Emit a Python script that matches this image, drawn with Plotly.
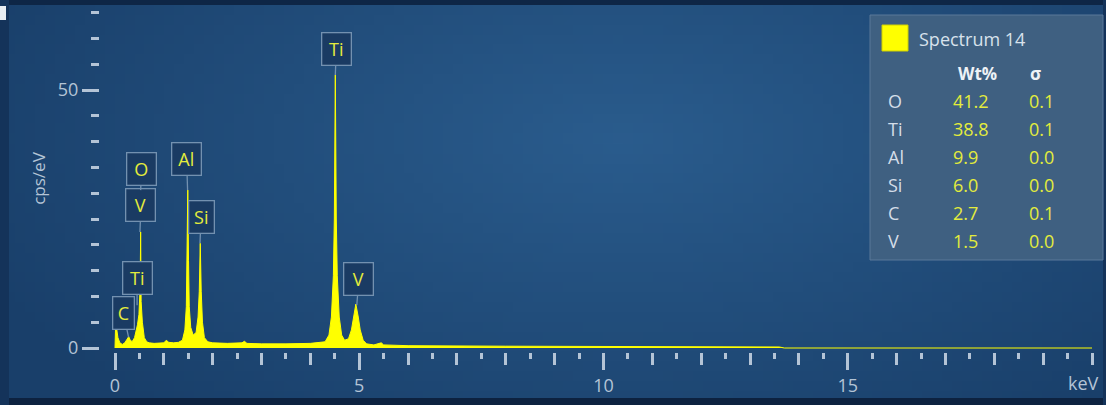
import base64
import struct
import zlib

import plotly.graph_objects as go

# ---------------- data ----------------
energy_kev = [0.00, 0.01, 0.03, 0.06, 0.10, 0.15, 0.20, 0.25, 0.28, 0.31, 0.35, 0.40, 0.43,
              0.46, 0.49, 0.505, 0.515, 0.525, 0.535, 0.56, 0.60, 0.65, 0.70, 0.80, 0.90, 1.00,
              1.05, 1.10, 1.20, 1.30, 1.38, 1.43, 1.46, 1.475, 1.49, 1.505, 1.52, 1.55, 1.60,
              1.66, 1.70, 1.725, 1.745, 1.765, 1.79, 1.83, 1.90, 2.00, 2.30, 2.60, 2.65, 2.70,
              3.00, 3.50, 4.00, 4.30, 4.38, 4.43, 4.47, 4.49, 4.51, 4.53, 4.55, 4.59, 4.64,
              4.70, 4.78, 4.84, 4.88, 4.93, 4.98, 5.02, 5.08, 5.15, 5.30, 5.45, 5.50, 6.00,
              8.00, 10.00, 12.00, 13.60, 13.70, 20.00]
cps_per_ev = [0.0, 3.6, 4.0, 2.0, 1.0, 0.7, 1.0, 1.8, 2.2, 1.6, 1.2, 2.0, 3.0,
              4.5, 6.5, 9.0, 12.0, 22.5, 9.0, 5.0, 2.0, 1.2, 1.0, 0.9, 0.9, 1.0,
              1.5, 1.1, 1.0, 1.1, 1.5, 3.5, 8.0, 17.0, 30.6, 17.0, 8.0, 4.0, 2.5,
              3.0, 6.0, 11.0, 20.3, 11.0, 5.0, 2.0, 1.2, 1.0, 0.9, 1.0, 1.3, 0.9,
              0.8, 0.8, 0.9, 1.2, 2.5, 6.0, 14.0, 25.0, 52.9, 25.0, 14.0, 6.0, 2.5,
              1.5, 1.8, 3.5, 6.0, 8.5, 6.0, 3.5, 1.5, 0.8, 0.6, 1.0, 0.6, 0.45,
              0.35, 0.3, 0.25, 0.2, 0.0, 0.0]

peak_labels = ["C", "Ti", "V", "O", "Al", "Si", "Ti", "V"]
peak_energy = [0.277, 0.452, 0.511, 0.525, 1.486, 1.740, 4.510, 4.950]
peak_height = [2.1, 8.3, 22.5, 30.6, 30.6, 20.3, 52.9, 8.3]

spectrum_name = "Spectrum 14"
table_header = ["Wt%", "σ"]
elements = ["O", "Ti", "Al", "Si", "C", "V"]
wt_pct = ["41.2", "38.8", "9.9", "6.0", "2.7", "1.5"]
sigma = ["0.1", "0.1", "0.0", "0.0", "0.1", "0.0"]

x_tick_vals = [0, 5, 10, 15]
y_tick_vals = [0, 50]

# ---------------- layout geometry ----------------
W, H = 1106, 405
L, R, T, B = 100, 8, 5, 53
PW, PH = W - L - R, H - T - B


def px(x):
    return (x - L) / PW


def py(y):
    return (H - B - y) / PH


BG = "#224d7c"
TICK = "#b4c4d6"
LABEL_YEL = "#e4ec3c"
FONT = "Open Sans"


# ---------------- background vignette (decoration image) ----------------
def vignette_png(w, h, inner, outer, cx, cy, rx, ry):
    rows = []
    for j in range(h):
        row = bytearray([0])
        for i in range(w):
            dx = ((i + 0.5) / w * W - cx) / rx
            dy = ((j + 0.5) / h * H - cy) / ry
            t = min(1.0, (dx * dx + dy * dy) ** 0.5)
            for c in range(3):
                row.append(int(round(inner[c] * (1 - t) + outer[c] * t)))
        rows.append(bytes(row))
    raw = b"".join(rows)

    def chunk(tag, data):
        return struct.pack(">I", len(data)) + tag + data + struct.pack(">I", zlib.crc32(tag + data) & 0xFFFFFFFF)

    png = b"\x89PNG\r\n\x1a\n" + chunk(b"IHDR", struct.pack(">IIBBBBB", w, h, 8, 2, 0, 0, 0))
    png += chunk(b"IDAT", zlib.compress(raw, 9)) + chunk(b"IEND", b"")
    return "data:image/png;base64," + base64.b64encode(png).decode()


bg_src = vignette_png(111, 41, (42, 92, 141), (25, 63, 106), 620, 140, 700, 360)

fig = go.Figure()
fig.add_trace(go.Scatter(
    x=energy_kev, y=cps_per_ev, mode="lines",
    line=dict(color="#ffff00", width=1),
    fill="tozeroy", fillcolor="#ffff00",
    hoverinfo="skip", showlegend=False,
))

# label offsets (pixels) for callouts
label_ax = [-5, 0, 1, 1, -1, 1, 1, 2]
label_ay = [-24, -27, -27, -21, -31, -26, -26, -26]
label_w = [12, 20, 20, 20, 20, 16, 20, 20]

annotations = []
for name, xe, yh, ax, ay, w in zip(peak_labels, peak_energy, peak_height, label_ax, label_ay, label_w):
    annotations.append(dict(
        x=xe, y=yh, xref="x", yref="y", text=name, showarrow=True,
        ax=ax, ay=ay, arrowhead=0, arrowwidth=1.3, arrowcolor="#7391b0",
        bgcolor="#1a3b63", bordercolor="#7391b0", borderwidth=1.3, borderpad=4,
        width=w, height=23, font=dict(family=FONT, size=18, color=LABEL_YEL),
    ))

# keV unit label at axis end
annotations.append(dict(x=20, y=0, xref="x", yref="paper", text="keV", showarrow=False,
                        xanchor="center", yanchor="middle", xshift=-9, yshift=-(383 - (H - B)),
                        font=dict(family=FONT, size=18, color=TICK)))

# legend panel texts
annotations.append(dict(x=px(917), y=py(39), xref="paper", yref="paper", text=spectrum_name,
                        showarrow=False, xanchor="left", yanchor="middle",
                        font=dict(family=FONT, size=18, color="#d8e2ec")))
annotations.append(dict(x=px(977), y=py(73), xref="paper", yref="paper", text="<b>%s</b>" % table_header[0],
                        showarrow=False, xanchor="center", yanchor="middle",
                        font=dict(family=FONT, size=17, color="#eef2f6")))
annotations.append(dict(x=px(1035), y=py(73), xref="paper", yref="paper", text="<b>%s</b>" % table_header[1],
                        showarrow=False, xanchor="center", yanchor="middle",
                        font=dict(family=FONT, size=17, color="#eef2f6")))
row0, dy = 101, 28
for i, (el, wt, sg) in enumerate(zip(elements, wt_pct, sigma)):
    yy = py(row0 + i * dy)
    annotations.append(dict(x=px(886), y=yy, xref="paper", yref="paper", text=el, showarrow=False,
                            xanchor="left", yanchor="middle",
                            font=dict(family=FONT, size=18, color="#d4dde8")))
    annotations.append(dict(x=px(951), y=yy, xref="paper", yref="paper", text=wt, showarrow=False,
                            xanchor="left", yanchor="middle",
                            font=dict(family=FONT, size=18, color=LABEL_YEL)))
    annotations.append(dict(x=px(1027), y=yy, xref="paper", yref="paper", text=sg, showarrow=False,
                            xanchor="left", yanchor="middle",
                            font=dict(family=FONT, size=18, color=LABEL_YEL)))

shapes = [
    # outer frame bands
    dict(type="rect", xref="paper", yref="paper", x0=px(0), x1=px(W), y0=py(0), y1=py(5),
         fillcolor="#0e2646", line=dict(width=0), layer="above"),
    dict(type="rect", xref="paper", yref="paper", x0=px(0), x1=px(W), y0=py(398), y1=py(H),
         fillcolor="#0d2240", line=dict(width=0), layer="above"),
    dict(type="rect", xref="paper", yref="paper", x0=px(0), x1=px(9), y0=py(0), y1=py(H),
         fillcolor="#14335a", line=dict(width=0), layer="above"),
    dict(type="rect", xref="paper", yref="paper", x0=px(0), x1=px(6), y0=py(6), y1=py(20),
         fillcolor="#e8edf2", line=dict(width=0), layer="above"),
    dict(type="rect", xref="paper", yref="paper", x0=px(1103), x1=px(W), y0=py(0), y1=py(H),
         fillcolor="#14335a", line=dict(width=0), layer="above"),
    # legend panel
    dict(type="rect", xref="paper", yref="paper", x0=px(870), x1=px(1103), y0=py(15), y1=py(260),
         fillcolor="#3f6081", line=dict(color="#5a7899", width=1), layer="above"),
    dict(type="rect", xref="paper", yref="paper", x0=px(882), x1=px(908), y0=py(25), y1=py(51),
         fillcolor="#ffff00", line=dict(color="#d0d000", width=1), layer="above"),
]

x_lo = -(115 - L) / 48.85
x_hi = x_lo + PW / 48.85
y_px_per = (348 - 90) / 50.0
y_lo = -(H - B - 348) / y_px_per
y_hi = y_lo + PH / y_px_per

fig.update_layout(
    width=W, height=H,
    margin=dict(l=L, r=R, t=T, b=B, autoexpand=False),
    paper_bgcolor=BG, plot_bgcolor="rgba(0,0,0,0)",
    font=dict(family=FONT, color=TICK),
    showlegend=False,
    annotations=annotations,
    shapes=shapes,
    images=[dict(source=bg_src, xref="paper", yref="paper", x=px(0), y=py(0),
                 sizex=W / PW, sizey=H / PH, xanchor="left", yanchor="top",
                 sizing="stretch", layer="below")],
    xaxis=dict(
        range=[x_lo, x_hi], showgrid=False, zeroline=False, showline=False, automargin=False,
        tickmode="array", tickvals=x_tick_vals, ticktext=[str(v) for v in x_tick_vals],
        ticks="outside", ticklen=17, tickwidth=3, tickcolor=TICK,
        tickfont=dict(family=FONT, size=18, color=TICK),
        minor=dict(tickmode="linear", tick0=0, dtick=0.5, ticks="outside", ticklen=6,
                   tickwidth=3, tickcolor=TICK, showgrid=False),
    ),
    xaxis2=dict(
        overlaying="x", matches="x", side="bottom", anchor="y", showgrid=False, zeroline=False,
        showline=False, tickmode="linear", tick0=0, dtick=1, ticks="outside", ticklen=12,
        tickwidth=3, tickcolor=TICK, showticklabels=False, automargin=False,
    ),
    yaxis=dict(
        range=[y_lo, y_hi], showgrid=False, zeroline=False, showline=False, automargin=False,
        tickmode="array", tickvals=y_tick_vals, ticktext=[str(v) for v in y_tick_vals],
        ticks="outside", ticklen=17, tickwidth=3, tickcolor=TICK,
        tickfont=dict(family=FONT, size=18, color=TICK),
        minor=dict(tickmode="linear", tick0=0, dtick=5, ticks="outside", ticklen=8,
                   tickwidth=3, tickcolor=TICK, showgrid=False),
        title=dict(text="cps/eV", font=dict(family=FONT, size=17, color=TICK), standoff=7),
    ),
)
# invisible trace on xaxis2 so that overlay axis is drawn
fig.add_trace(go.Scatter(x=[energy_kev[0]], y=[cps_per_ev[0]], xaxis="x2", mode="lines",
                         line=dict(width=0), hoverinfo="skip", showlegend=False))

fig.write_html("out.html", config={"displayModeBar": False},
               post_script="document.body.style.margin='0';document.body.style.background='%s';" % BG)
